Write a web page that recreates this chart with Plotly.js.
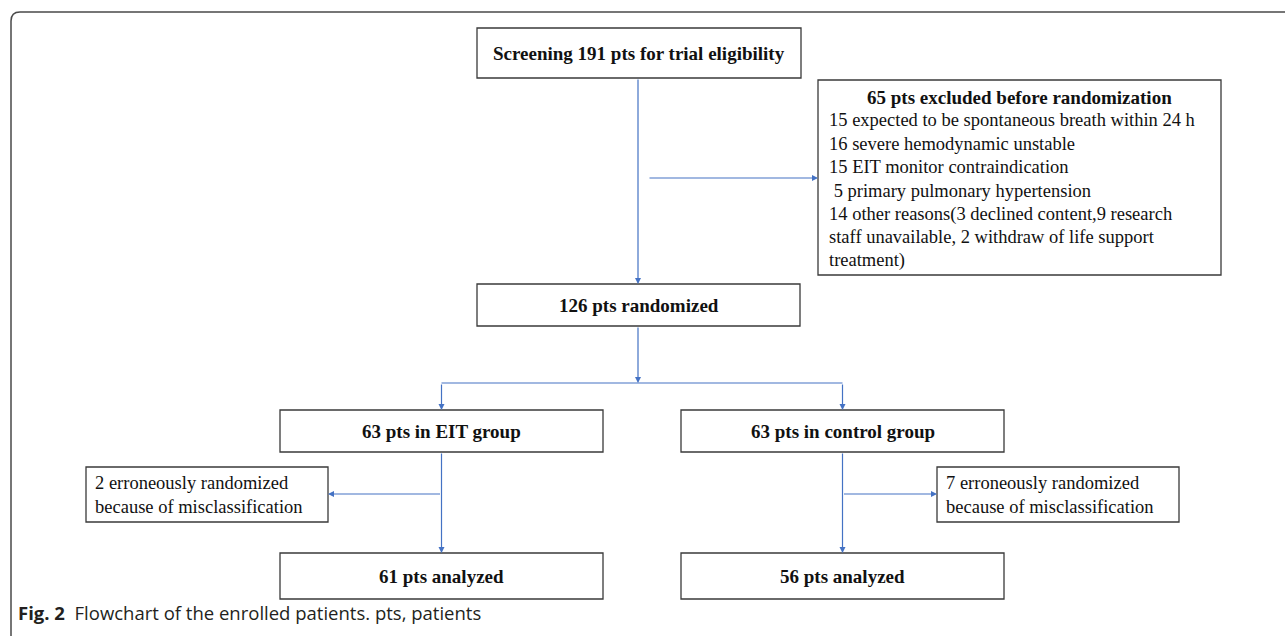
<!DOCTYPE html>
<html>
<head>
<meta charset="utf-8">
<script src="https://cdn.plot.ly/plotly-3.0.1.min.js"></script>
<style>
  html, body { margin: 0; padding: 0; background: #ffffff; }
  #chart { width: 1285px; height: 636px; }
</style>
</head>
<body>
<div id="chart"></div>
<script>
// ---------------- data ----------------
const screened = 191;
const excludedTotal = 65;
const randomized = 126;
const groupNames = ["EIT", "control"];
const groupAllocated = [63, 63];
const groupErroneous = [2, 7];
const groupAnalyzed = [61, 56];
const exclusionCounts = [15, 16, 15, 5, 14];
const exclusionReasons = [
  "expected to be spontaneous breath within 24 h",
  "severe hemodynamic unstable",
  "EIT monitor contraindication",
  "primary pulmonary hypertension",
  "other reasons(3 declined content,9 research"
];
const exclusionContinuation = [
  "staff unavailable, 2 withdraw of life support",
  "treatment)"
];
const captionLabel = "Fig. 2";
const captionText = "Flowchart of the enrolled patients. pts, patients";

// ---------------- layout geometry (pixel space) ----------------
const G = {
  screen:   {x0: 477, x1: 801, y0: 28,  y1: 78},
  excl:     {x0: 818, x1: 1221, y0: 80, y1: 275},
  rand:     {x0: 477, x1: 800, y0: 284, y1: 326},
  group:    [{x0: 280, x1: 603, y0: 410, y1: 452}, {x0: 681, x1: 1004, y0: 410, y1: 452}],
  err:      [{x0: 86,  x1: 328, y0: 467, y1: 522}, {x0: 937, x1: 1179, y0: 467, y1: 522}],
  anal:     [{x0: 280, x1: 603, y0: 553, y1: 599}, {x0: 681, x1: 1004, y0: 553, y1: 599}],
  trunkX: 638, exclArrowY: 178, exclArrowX0: 648,
  splitY: 383, errArrowY: 494
};

const boxLine = {color: "#3a3a3a", width: 1.3};
const blue = "#4472C4";
const serif = "'Liberation Serif', 'Times New Roman', Times, serif";

const shapes = [];
const annotations = [];

function box(b) {
  shapes.push({type: "rect", xref: "x", yref: "y", x0: b.x0, x1: b.x1, y0: b.y0, y1: b.y1,
    line: boxLine, fillcolor: "rgba(0,0,0,0)"});
}
function seg(x0, y0, x1, y1) {
  shapes.push({type: "line", xref: "x", yref: "y", x0: x0, y0: y0, x1: x1, y1: y1,
    line: {color: blue, width: 1.2}});
}
function arrow(x0, y0, x1, y1) {
  annotations.push({x: x1, y: y1, ax: x0, ay: y0, xref: "x", yref: "y", axref: "x", ayref: "y",
    text: "", showarrow: true, arrowhead: 2, arrowsize: 1, arrowwidth: 1.2,
    arrowcolor: blue, standoff: 0, startstandoff: 0});
}
function label(text, x, y, opts) {
  opts = opts || {};
  annotations.push({x: x, y: y, xref: "x", yref: "y", text: text, showarrow: false,
    xanchor: opts.xanchor || "center", yanchor: "middle", align: opts.xanchor || "center",
    font: {family: opts.family || serif, size: opts.size || 18, color: opts.color || "#111111"}});
}
const cx = b => (b.x0 + b.x1) / 2;
const cy = b => (b.y0 + b.y1) / 2;

// boxes
box(G.screen); box(G.excl); box(G.rand);
G.group.forEach(box); G.err.forEach(box); G.anal.forEach(box);

// main texts
const boldSize = 19;
const regSize = 18.5;
label("<b>Screening " + screened + " pts for trial eligibility</b>", cx(G.screen), cy(G.screen) + 0.5, {size: boldSize});
label("<b>" + randomized + " pts randomized</b>", cx(G.rand), cy(G.rand), {size: boldSize});
groupNames.forEach((n, i) => {
  label("<b>" + groupAllocated[i] + " pts in " + n + " group</b>", cx(G.group[i]), cy(G.group[i]), {size: boldSize});
  label("<b>" + groupAnalyzed[i] + " pts analyzed</b>", cx(G.anal[i]), cy(G.anal[i]), {size: boldSize});
  label(groupErroneous[i] + " erroneously randomized", G.err[i].x0 + 7, 483, {xanchor: "left", size: regSize});
  label("because of misclassification", G.err[i].x0 + 7, 507, {xanchor: "left", size: regSize});
});

// exclusion box text
const exLineY0 = 97, exStep = 23.4;
label("<b>" + excludedTotal + " pts excluded before randomization</b>", cx(G.excl), exLineY0, {size: 19});
const exLines = exclusionCounts.map((c, i) => (c < 10 ? "\u00a0" : "") + c + " " + exclusionReasons[i])
  .concat(exclusionContinuation);
exLines.forEach((t, i) => label(t, 827, exLineY0 + exStep * (i + 1), {xanchor: "left", size: regSize}));

// connectors
arrow(G.trunkX, G.screen.y1, G.trunkX, G.rand.y0);
arrow(G.exclArrowX0, G.exclArrowY, G.excl.x0, G.exclArrowY);
arrow(G.trunkX, G.rand.y1, G.trunkX, G.splitY);
seg(cx(G.group[0]), G.splitY, cx(G.group[1]), G.splitY);
G.group.forEach((g, i) => {
  arrow(cx(g), G.splitY, cx(g), g.y0);
  arrow(cx(g), g.y1, cx(g), G.anal[i].y0);
});
arrow(cx(G.group[0]), G.errArrowY, G.err[0].x1, G.errArrowY);
arrow(cx(G.group[1]), G.errArrowY, G.err[1].x0, G.errArrowY);

// outer frame with rounded corner
shapes.push({type: "path", xref: "x", yref: "y",
  path: "M 1300 12 L 20 12 Q 11 12 11 21 L 11 660",
  line: {color: "#4a4a4a", width: 1.5}});

// caption
annotations.push({x: 16, y: 612, xref: "x", yref: "y", xanchor: "left", yanchor: "middle",
  showarrow: false, align: "left",
  text: "<b>" + captionLabel + "</b>\u00a0\u00a0" + captionText,
  font: {family: "'Open Sans', 'Noto Sans', sans-serif", size: 18.5, color: "#231f20"}});

const layout = {
  width: 1285, height: 636,
  margin: {l: 0, r: 0, t: 0, b: 0, pad: 0},
  paper_bgcolor: "#ffffff", plot_bgcolor: "#ffffff",
  xaxis: {range: [0, 1285], visible: false, fixedrange: true},
  yaxis: {range: [636, 0], visible: false, fixedrange: true},
  showlegend: false,
  shapes: shapes,
  annotations: annotations
};

Plotly.newPlot("chart", [], layout, {displayModeBar: false, staticPlot: true});
</script>
</body>
</html>
